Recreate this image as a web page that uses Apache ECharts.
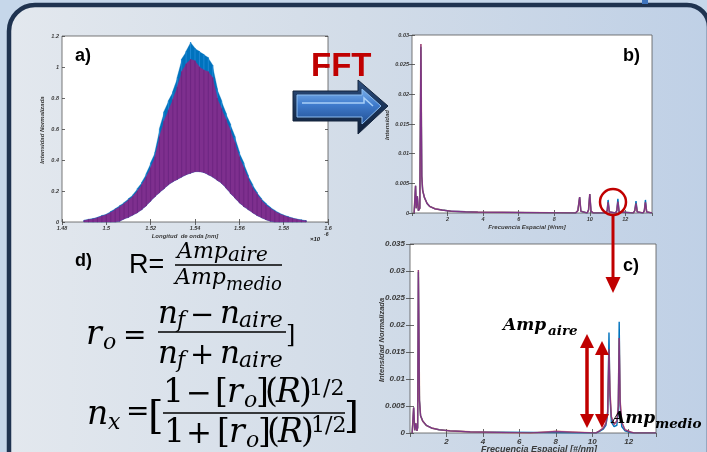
<!DOCTYPE html>
<html><head><meta charset="utf-8">
<script src="https://cdn.jsdelivr.net/npm/echarts@6/dist/echarts.min.js"></script>
<style>html,body{margin:0;padding:0;background:#c6d7ea}#c{width:707px;height:452px}</style>
</head><body><div id="c"></div>
<script>
// ---------- DATA ----------
// a) interference spectrum: wavelength (x10^-6), upper fringe tops (blue, purple), lower fringe bottoms
const wavelengthA = [1.490,1.492,1.494,1.496,1.498,1.500,1.502,1.504,1.506,1.508,1.510,1.512,1.514,1.516,1.518,1.520,1.522,1.524,1.526,1.528,1.530,1.532,1.534,1.536,1.538,1.540,1.542,1.544,1.546,1.548,1.550,1.552,1.554,1.556,1.558,1.560,1.562,1.564,1.566,1.568,1.570,1.572,1.574,1.576,1.578,1.580,1.582,1.584,1.586,1.588,1.590];
const blueTopA = [0.012,0.018,0.022,0.030,0.042,0.050,0.068,0.085,0.105,0.125,0.150,0.175,0.215,0.255,0.31,0.38,0.45,0.60,0.71,0.78,0.84,0.93,1.05,1.10,1.16,1.12,1.10,1.08,1.06,1.01,0.86,0.78,0.70,0.63,0.55,0.45,0.38,0.30,0.24,0.19,0.15,0.12,0.095,0.075,0.058,0.045,0.035,0.026,0.019,0.014,0.009];
const purpleTopA = [0.010,0.016,0.020,0.028,0.038,0.047,0.062,0.080,0.098,0.118,0.142,0.165,0.20,0.24,0.29,0.35,0.42,0.55,0.65,0.72,0.79,0.87,0.97,1.02,1.05,1.04,1.00,0.98,0.97,0.93,0.80,0.73,0.66,0.59,0.51,0.42,0.35,0.28,0.22,0.18,0.14,0.11,0.088,0.070,0.054,0.042,0.032,0.024,0.017,0.012,0.008];
const lowA = [0,0,0,0,0,0,0,0,0.005,0.02,0.03,0.045,0.06,0.08,0.105,0.135,0.165,0.19,0.215,0.24,0.26,0.275,0.29,0.305,0.315,0.325,0.325,0.32,0.305,0.29,0.27,0.25,0.22,0.185,0.155,0.125,0.10,0.08,0.06,0.042,0.028,0.015,0.005,0,0,0,0,0,0,0,0];

// b) FFT spectrum [spatial frequency, intensity]
const fftBPurple = [[0.12,0],[0.2,0.0046],[0.24,0.0008],[0.3,0.0028],[0.36,0.0004],[0.44,0.0008],[0.5,0.0285],[0.55,0.0062],[0.6,0.0038],[0.7,0.0026],[0.85,0.0016],[1.0,0.0011],[1.3,0.0007],[1.7,0.0005],[2.2,0.0003],[3.0,0.0002],[3.7,0.00015],[3.8,0],[9.2,0],[9.33,0.0004],[9.43,0.0027],[9.5,0.0003],[9.6,0],[9.85,0],[9.93,0.0005],[10.0,0.0032],[10.07,0.0003],[10.2,0],[10.9,0],[10.98,0.0004],[11.03,0.0018],[11.1,0.0002],[11.45,0],[11.52,0.0004],[11.58,0.0019],[11.65,0.0002],[12.45,0],[12.53,0.0004],[12.6,0.0016],[12.67,0.0002],[13.0,0],[13.07,0.0004],[13.13,0.0018],[13.2,0.0002],[13.5,0]];
const fftBBlue = [[0.12,0],[0.2,0.0046],[0.24,0.0008],[0.3,0.0028],[0.36,0.0004],[0.44,0.0008],[0.5,0.0280],[0.55,0.0062],[0.6,0.0038],[0.7,0.0026],[0.85,0.0016],[1.0,0.0011],[1.3,0.0007],[1.7,0.0005],[2.2,0.0003],[3.0,0.0002],[3.7,0.00015],[3.8,0],[9.2,0],[9.33,0.0004],[9.43,0.0027],[9.5,0.0003],[9.6,0],[9.85,0],[9.93,0.0005],[10.0,0.0032],[10.07,0.0003],[10.2,0],[10.9,0],[10.98,0.0004],[11.03,0.0022],[11.1,0.0002],[11.45,0],[11.52,0.0004],[11.58,0.0024],[11.65,0.0002],[12.45,0],[12.53,0.0004],[12.6,0.0020],[12.67,0.0002],[13.0,0],[13.07,0.0004],[13.13,0.0022],[13.2,0.0002],[13.5,0]];

// c) zoomed FFT spectrum [spatial frequency, normalized intensity]
const fftCPurple = [[0.12,0],[0.2,0.0047],[0.26,0.0005],[0.32,0.0018],[0.38,0.0004],[0.42,0.001],[0.46,0.0302],[0.52,0.006],[0.58,0.0032],[0.7,0.0022],[0.9,0.0014],[1.2,0.0009],[1.6,0.0006],[2.2,0.0004],[2.8,0.0003],[3.3,0.0002],[3.4,0],[6.6,0],[6.7,0.0003],[8.0,0.0003],[8.1,0],[10.2,0],[10.4,0.0004],[10.6,0.0009],[10.75,0.0018],[10.85,0.004],[10.92,0.0155],[10.97,0.008],[11.05,0.003],[11.2,0.0016],[11.35,0.0022],[11.43,0.005],[11.48,0.0176],[11.53,0.006],[11.62,0.002],[11.8,0.0006],[12.1,0.0002],[12.3,0],[13.5,0]];
const fftCBlue = [[0.12,0],[0.2,0.0047],[0.26,0.0005],[0.32,0.0018],[0.38,0.0004],[0.42,0.001],[0.46,0.0298],[0.52,0.006],[0.58,0.0032],[0.7,0.0022],[0.9,0.0014],[1.2,0.0009],[1.6,0.0006],[2.2,0.0004],[2.8,0.0003],[3.3,0.0002],[3.4,0],[10.2,0],[10.4,0.0003],[10.6,0.0007],[10.75,0.0014],[10.85,0.0035],[10.92,0.0186],[10.97,0.007],[11.05,0.002],[11.2,0.0012],[11.35,0.0014],[11.43,0.004],[11.48,0.0206],[11.53,0.005],[11.62,0.0012],[11.8,0.0004],[12.1,0.0001],[12.3,0],[13.5,0]];

// tick setup
const xTicksA = {min:1.48, max:1.6, interval:0.02};
const yTicksA = {min:0, max:1.2, interval:0.2};
const xTicksBC = {min:0, max:13.5, interval:2};
const yTicksB = {min:0, max:0.03, interval:0.005};
const yTicksC = {min:0, max:0.035, interval:0.005};

// ---------- CHART ----------
const BLUE = '#0072BD', PURPLE = '#7E2F8E', ORANGE = '#D95319', RED = '#C00000';
const chart = echarts.init(document.getElementById('c'), null, {renderer:'canvas'});

function lbl(size, dec){
  return {fontSize:size, fontStyle:'italic', fontWeight:'bold', color:'#3a3a3a', fontFamily:'Liberation Sans',
          margin: size>7?5:3, formatter: v => String(+(+v).toFixed(dec))};
}
function axesFor(gi, xt, yt, size, xdec, ydec, tickLen, hideEnds){
  const tick = {inside:true, length:tickLen, lineStyle:{color:'#444', width:0.8}};
  const xl = lbl(size, xdec); if (hideEnds){ xl.showMinLabel=false; xl.showMaxLabel=false; }
  const x = [
    {gridIndex:gi, type:'value', ...xt, position:'bottom', axisLine:{show:false}, axisTick:tick, splitLine:{show:false}, axisLabel:xl},
    {gridIndex:gi, type:'value', ...xt, position:'top', axisLine:{show:false}, axisTick:tick, splitLine:{show:false}, axisLabel:{show:false}}
  ];
  const y = [
    {gridIndex:gi, type:'value', ...yt, position:'left', axisLine:{show:false}, axisTick:tick, splitLine:{show:false}, axisLabel:lbl(size, ydec)},
    {gridIndex:gi, type:'value', ...yt, position:'right', axisLine:{show:false}, axisTick:tick, splitLine:{show:false}, axisLabel:{show:false}}
  ];
  return {x, y};
}
const axA = axesFor(0, xTicksA, yTicksA, 5.5, 2, 1, 3, false);
const axB = axesFor(1, xTicksBC, yTicksB, 5.5, 0, 3, 3, true);
const axC = axesFor(2, xTicksBC, yTicksC, 8, 0, 3, 4, true);

// fringe band: each sample joined to the next one by a filled quad, plus a thin fringe stroke
function fringeSeries(tops, color, stroke){
  const rows = wavelengthA.map((w,i)=> i < wavelengthA.length-1
      ? [w, lowA[i], tops[i], wavelengthA[i+1], lowA[i+1], tops[i+1]]
      : [w, lowA[i], tops[i], w, lowA[i], tops[i]]);
  return {
    type:'custom', xAxisIndex:0, yAxisIndex:0, z:3,
    data: rows,
    encode:{x:[0,3], y:[1,2,4,5]},
    renderItem:(params, api)=>{
      const a1 = api.coord([api.value(0), api.value(1)]);
      const a2 = api.coord([api.value(0), api.value(2)]);
      const b1 = api.coord([api.value(3), api.value(4)]);
      const b2 = api.coord([api.value(3), api.value(5)]);
      return {type:'group', children:[
        {type:'polygon', shape:{points:[[a1[0]-0.3,a1[1]],[a2[0]-0.3,a2[1]],[b2[0]+0.3,b2[1]],[b1[0]+0.3,b1[1]]]}, style:{fill:color, stroke:color, lineWidth:0.3}},
        {type:'line', shape:{x1:a1[0], y1:a1[1], x2:a2[0], y2:a2[1]}, style:{stroke:stroke, lineWidth:0.9}}
      ]};
    }
  };
}
function lineS(xi, yi, data, color, w, op){
  return {type:'line', xAxisIndex:xi, yAxisIndex:yi, data, showSymbol:false, symbol:'none', animation:false,
          lineStyle:{color, width:w, opacity:op===undefined?1:op}, z:3};
}

// text helper: x = left, base = baseline
function T(text, x, base, size, fam, style, weight, fill, extra){
  return Object.assign({type:'text', x:x, y:base-0.34*size, z:100, silent:true,
    style:{text, font:(style||'normal')+' '+(weight||'normal')+' '+size+'px "'+fam+'"', fill:fill||'#000', align:'left', verticalAlign:'middle'}}, extra||{});
}
const SER = 'DejaVu Serif';
function M(text, x, base, size){ return T(text, x, base, size, SER, 'italic'); }
function N(text, x, base, size){ return T(text, x, base, size, SER, 'normal'); }
function bar(x1, x2, y){ return {type:'line', z:100, shape:{x1, y1:y, x2, y2:y}, style:{stroke:'#000', lineWidth:1.6}}; }
function axisText(text, cx, cy, size, rot){
  return {type:'text', x:cx, y:cy, z:100, rotation: rot?Math.PI/2:0, silent:true,
    style:{text, font:'italic bold '+size+'px "Liberation Sans"', fill:'#3a3a3a', align:'center', verticalAlign:'middle'}};
}
function dblArrow(x, top, bottom){
  return [
    {type:'line', z:100, shape:{x1:x, y1:top+10, x2:x, y2:bottom-10}, style:{stroke:RED, lineWidth:3.5}},
    {type:'polygon', z:100, shape:{points:[[x-7,top+14],[x+7,top+14],[x,top]]}, style:{fill:RED}},
    {type:'polygon', z:100, shape:{points:[[x-7,bottom-14],[x+7,bottom-14],[x,bottom]]}, style:{fill:RED}}
  ];
}

const graphics = [
  // frame + background
  {type:'rect', z:-10, shape:{x:9, y:5, width:700, height:520, r:[26,22,0,0]},
   style:{fill:{type:'linear', x:0, y:0, x2:1, y2:0, colorStops:[{offset:0,color:'#e3e8ee'},{offset:0.5,color:'#d2dce8'},{offset:1,color:'#bfd0e6'}]},
          stroke:'#1f3350', lineWidth:4.5}},
  {type:'rect', z:-9, shape:{x:642, y:0, width:6, height:4}, style:{fill:'#3f74bd'}},
  // labels
  T('a)', 75, 62, 18, 'Liberation Sans', 'normal', 'bold'),
  T('b)', 623, 62, 18, 'Liberation Sans', 'normal', 'bold'),
  T('c)', 623, 272, 18, 'Liberation Sans', 'normal', 'bold'),
  T('d)', 75, 267, 18, 'Liberation Sans', 'normal', 'bold'),
  T('FFT', 311, 78, 33, 'Liberation Sans', 'normal', 'bold', RED),
  // blue 3D arrow
  {type:'polygon', z:100, shape:{points:[[293,91],[358,91],[358,80],[388,106],[358,134],[358,121],[293,121]]},
   style:{fill:{type:'linear', x:0, y:0, x2:0, y2:1, colorStops:[{offset:0,color:'#2d4f80'},{offset:0.5,color:'#1b3458'},{offset:1,color:'#0f1f38'}]}, stroke:'#15253d', lineWidth:1}},
  {type:'polygon', z:100, shape:{points:[[297,95],[362,95],[362,89],[381,106],[362,124],[362,117],[297,117]]},
   style:{fill:{type:'linear', x:0, y:0, x2:0, y2:1, colorStops:[{offset:0,color:'#79aee9'},{offset:0.45,color:'#3f7bcc'},{offset:1,color:'#224f92'}]}, stroke:'#8dbdf0', lineWidth:1}},
  {type:'polyline', z:100, shape:{points:[[302,103],[364,103],[364,98],[373,106]]}, style:{stroke:'#a9d0f7', lineWidth:1.5, fill:null}},
  // red circle and arrow
  {type:'circle', z:100, shape:{cx:613, cy:202, r:13}, style:{fill:null, stroke:RED, lineWidth:2.5}},
  {type:'line', z:100, shape:{x1:613, y1:215, x2:613, y2:280}, style:{stroke:RED, lineWidth:3}},
  {type:'polygon', z:100, shape:{points:[[605.5,277],[620.5,277],[613,293]]}, style:{fill:RED}},
  ...dblArrow(587, 334, 428),
  ...dblArrow(602, 341, 428),
  // Amp labels in c)
  T('Amp', 503, 331, 17, SER, 'italic', 'bold'),
  T('aire', 548, 336, 13.5, SER, 'italic', 'bold'),
  T('Amp', 612, 424, 17, SER, 'italic', 'bold'),
  T('medio', 655, 429, 13.5, SER, 'italic', 'bold'),
  // axis titles
  axisText('Longitud  de onda [nm]', 185, 236, 6),
  axisText('Intensidad Normalizada', 42, 130, 6, true),
  T('×10', 310, 241, 6, 'Liberation Sans', 'italic', 'bold', '#222'),
  T('-6', 324, 236, 5, 'Liberation Sans', 'italic', 'bold', '#222'),
  axisText('Frecuencia Espacial [#/nm]', 527, 227, 6),
  axisText('Intensidad', 387, 125, 6, true),
  axisText('Intensidad Normalizada', 382, 340, 7.5, true),
  axisText('Frecuencia Espacial [#/nm]', 539, 450, 9),
  // formula line 1
  T('R=', 129, 275, 27, 'Liberation Sans', 'normal', 'normal'),
  M('Amp', 177, 260, 22), M('aire', 228, 263, 20),
  bar(175, 282, 265),
  M('Amp', 175, 286, 22), M('medio', 226, 291, 18),
  // formula line 2
  M('r', 86, 347, 33), M('o', 103, 351, 22), N('=', 123, 346, 28),
  M('n', 158, 325, 31), M('f', 177, 329, 22), N('−', 190, 326, 29), M('n', 220, 325, 31), M('aire', 239, 329, 22),
  bar(158, 286, 332),
  M('n', 158, 365, 31), M('f', 177, 369, 22), N('+', 190, 366, 29), M('n', 220, 365, 31), M('aire', 239, 369, 22),
  N(']', 286, 344, 24),
  // formula line 3
  M('n', 87, 427, 33), M('x', 108, 431, 22), N('=', 126, 422, 28), N('[', 148, 431, 40),
  N('1', 163, 405, 33), N('−', 186, 405, 31), N('[', 215, 405, 33), M('r', 227, 405, 33), M('o', 244, 409, 22), N(']', 256, 405, 33),
  N('(', 265, 405, 33), M('R', 276, 405, 33), N(')', 299, 405, 33), N('1/2', 309, 397, 22),
  bar(163, 345, 413),
  N('1', 164, 445, 33), N('+', 186, 445, 31), N('[', 217, 445, 33), M('r', 229, 445, 33), M('o', 246, 449, 22), N(']', 258, 445, 33),
  N('(', 267, 445, 33), M('R', 278, 445, 33), N(')', 301, 445, 33), N('1/2', 311, 434, 22),
  N(']', 344, 431, 38)
];

const gridStyle = {show:true, backgroundColor:'#ffffff', borderColor:'#555', borderWidth:0.8};
chart.setOption({
  animation:false,
  backgroundColor:'#c6d7ea',
  grid:[
    {left:62, top:36, width:266, height:186, ...gridStyle},
    {left:412, top:35, width:240, height:178, ...gridStyle},
    {left:410, top:244, width:246, height:189, ...gridStyle}
  ],
  xAxis:[...axA.x, ...axB.x, ...axC.x],
  yAxis:[...axA.y, ...axB.y, ...axC.y],
  series:[
    fringeSeries(blueTopA, BLUE, '#1f8ad6'),
    fringeSeries(purpleTopA, PURPLE, '#6c2580'),
    lineS(2, 2, fftBBlue, BLUE, 1.4),
    lineS(2, 2, fftBPurple, ORANGE, 1.6, 0.6),
    lineS(2, 2, fftBPurple, PURPLE, 1.2, 0.9),
    lineS(4, 4, fftCBlue, BLUE, 1.4),
    lineS(4, 4, fftCPurple, ORANGE, 1.6, 0.6),
    lineS(4, 4, fftCPurple, PURPLE, 1.2, 0.85)
  ],
  graphic:{elements:graphics}
});
</script>
</body></html>
